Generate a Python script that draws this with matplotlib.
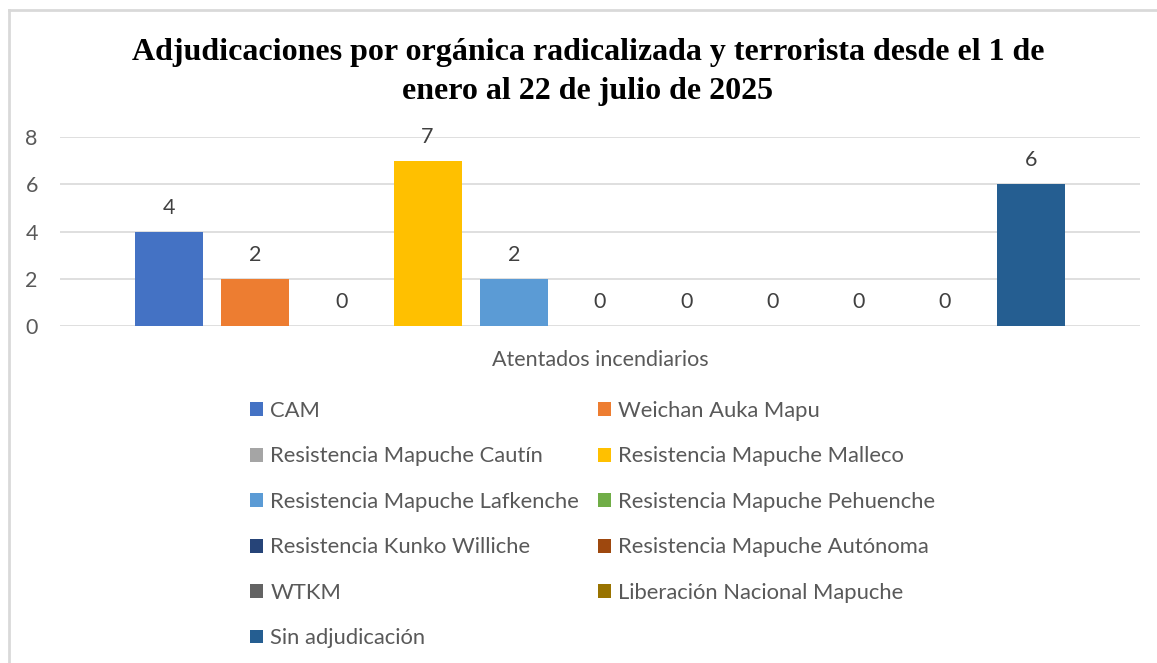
import matplotlib
matplotlib.use("Agg")
import matplotlib.pyplot as plt
from matplotlib.lines import Line2D

# data
grupos = ["CAM", "Weichan Auka Mapu", "Resistencia Mapuche Cautín",
          "Resistencia Mapuche Malleco", "Resistencia Mapuche Lafkenche",
          "Resistencia Mapuche Pehuenche", "Resistencia Kunko Williche",
          "Resistencia Mapuche Autónoma", "WTKM", "Liberación Nacional Mapuche",
          "Sin adjudicación"]
valores = [4, 2, 0, 7, 2, 0, 0, 0, 0, 0, 6]
colores = ["#4472C4", "#ED7D31", "#A5A5A5", "#FFC000", "#5B9BD5", "#70AD47",
           "#264478", "#9E480E", "#636363", "#997300", "#255E91"]
categoria = "Atentados incendiarios"
titulo = "Adjudicaciones por orgánica radicalizada y terrorista desde el 1 de\nenero al 22 de julio de 2025"

plt.rcParams['font.family'] = ['Lato', 'DejaVu Sans']
fs = 15.5

W, H = 1157, 663
fig = plt.figure(figsize=(W / 100, H / 100), dpi=100)
ax = fig.add_axes([60 / W, 1 - 326 / H, 1080 / W, 189 / H])

handles = []
for i in range(len(valores)):
    b = ax.bar(i, valores[i], width=0.79, color=colores[i], label=grupos[i], zorder=3)
    ax.bar_label(b, padding=10, fontsize=fs, color="#404040")
    handles.append(b)

ax.set_xlim(-1.265, 11.265)
ax.set_ylim(0, 8)
ax.set_yticks([0, 2, 4, 6, 8])
ax.set_xticks([])
ax.grid(axis="y", color="#d9d9d9", linewidth=1.2, zorder=0)
for s in ax.spines.values():
    s.set_visible(False)
ax.tick_params(axis="y", length=0, labelsize=fs, labelcolor="#595959", pad=16)
ax.set_xlabel(categoria, fontsize=fs, color="#595959", labelpad=17)

fig.text(588 / W, 1 - 72 / H, titulo, ha="center", va="center",
         family="Liberation Serif", fontweight="bold", fontsize=23,
         linespacing=1.42, color="#000000")

# orden por filas: pares en la primera columna, impares en la segunda
orden = list(range(0, 11, 2)) + list(range(1, 11, 2))
fl = 15.8
leg = fig.legend([handles[i] for i in orden], [grupos[i] for i in orden],
                 ncol=2, loc="upper left", bbox_to_anchor=(250 / W, 1 - 401 / H),
                 frameon=False, fontsize=fl, handlelength=0.59, handleheight=0.59,
                 handletextpad=0.33, columnspacing=0.87, labelspacing=1.16,
                 borderpad=0, borderaxespad=0)
for t in leg.get_texts():
    t.set_color("#595959")

# marco del grafico
fig.add_artist(Line2D([9 / W, 1], [1 - 10 / H, 1 - 10 / H], color="#d9d9d9", linewidth=2))
fig.add_artist(Line2D([9 / W, 9 / W], [0, 1 - 10 / H], color="#d9d9d9", linewidth=2))

fig.savefig("out.png", dpi=100)
